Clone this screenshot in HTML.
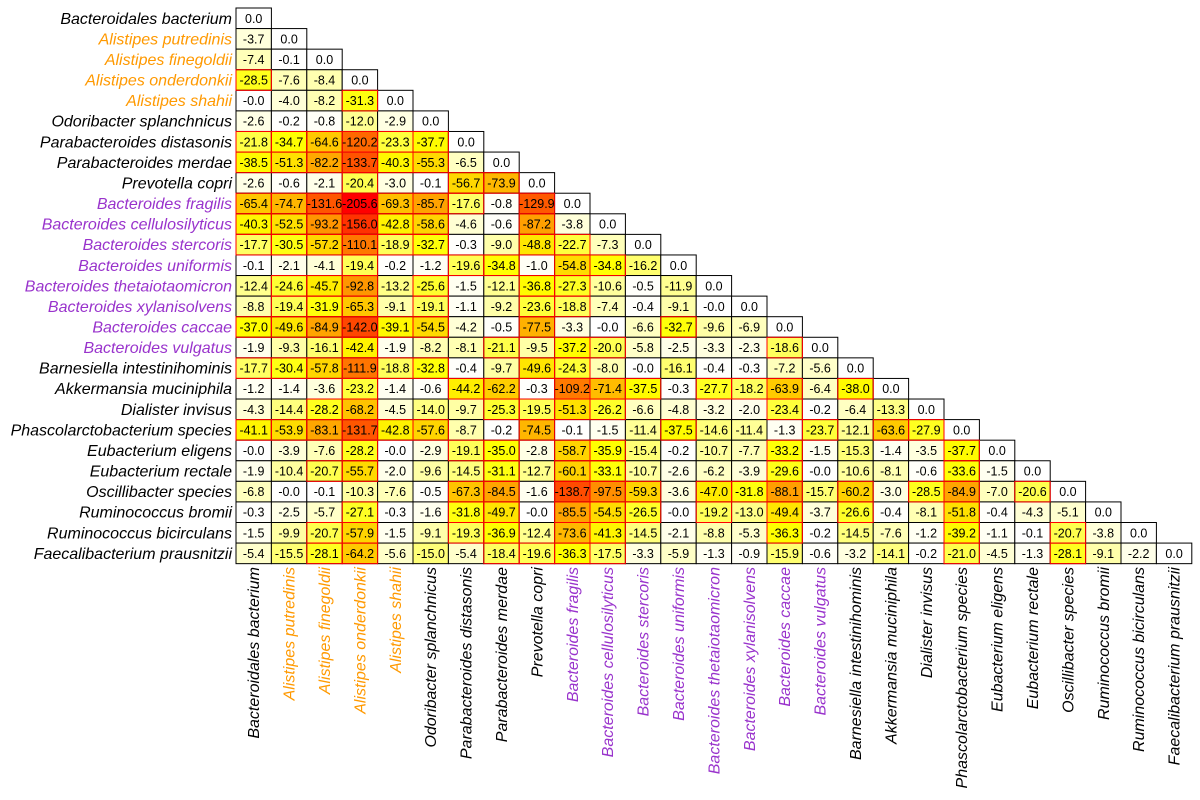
<!DOCTYPE html>
<html><head><meta charset="utf-8"><style>
html,body{margin:0;padding:0;background:#fff;}
svg{display:block;font-family:"Liberation Sans",Arial,sans-serif;}
</style></head><body>
<svg id="chart" width="1200" height="800" xmlns="http://www.w3.org/2000/svg"></svg>
<script>
const species = ["Bacteroidales bacterium","Alistipes putredinis","Alistipes finegoldii","Alistipes onderdonkii","Alistipes shahii","Odoribacter splanchnicus","Parabacteroides distasonis","Parabacteroides merdae","Prevotella copri","Bacteroides fragilis","Bacteroides cellulosilyticus","Bacteroides stercoris","Bacteroides uniformis","Bacteroides thetaiotaomicron","Bacteroides xylanisolvens","Bacteroides caccae","Bacteroides vulgatus","Barnesiella intestinihominis","Akkermansia muciniphila","Dialister invisus","Phascolarctobacterium species","Eubacterium eligens","Eubacterium rectale","Oscillibacter species","Ruminococcus bromii","Ruminococcus bicirculans","Faecalibacterium prausnitzii"];
const groups = ["k","o","o","o","o","k","k","k","k","p","p","p","p","p","p","p","p","k","k","k","k","k","k","k","k","k","k"];
const values = [
[0.0],
[-3.7,0.0],
[-7.4,-0.1,0.0],
[-28.5,-7.6,-8.4,0.0],
[-0.0,-4.0,-8.2,-31.3,0.0],
[-2.6,-0.2,-0.8,-12.0,-2.9,0.0],
[-21.8,-34.7,-64.6,-120.2,-23.3,-37.7,0.0],
[-38.5,-51.3,-82.2,-133.7,-40.3,-55.3,-6.5,0.0],
[-2.6,-0.6,-2.1,-20.4,-3.0,-0.1,-56.7,-73.9,0.0],
[-65.4,-74.7,-131.6,-205.6,-69.3,-85.7,-17.6,-0.8,-129.9,0.0],
[-40.3,-52.5,-93.2,-156.0,-42.8,-58.6,-4.6,-0.6,-87.2,-3.8,0.0],
[-17.7,-30.5,-57.2,-110.1,-18.9,-32.7,-0.3,-9.0,-48.8,-22.7,-7.3,0.0],
[-0.1,-2.1,-4.1,-19.4,-0.2,-1.2,-19.6,-34.8,-1.0,-54.8,-34.8,-16.2,0.0],
[-12.4,-24.6,-45.7,-92.8,-13.2,-25.6,-1.5,-12.1,-36.8,-27.3,-10.6,-0.5,-11.9,0.0],
[-8.8,-19.4,-31.9,-65.3,-9.1,-19.1,-1.1,-9.2,-23.6,-18.8,-7.4,-0.4,-9.1,-0.0,0.0],
[-37.0,-49.6,-84.9,-142.0,-39.1,-54.5,-4.2,-0.5,-77.5,-3.3,-0.0,-6.6,-32.7,-9.6,-6.9,0.0],
[-1.9,-9.3,-16.1,-42.4,-1.9,-8.2,-8.1,-21.1,-9.5,-37.2,-20.0,-5.8,-2.5,-3.3,-2.3,-18.6,0.0],
[-17.7,-30.4,-57.8,-111.9,-18.8,-32.8,-0.4,-9.7,-49.6,-24.3,-8.0,-0.0,-16.1,-0.4,-0.3,-7.2,-5.6,0.0],
[-1.2,-1.4,-3.6,-23.2,-1.4,-0.6,-44.2,-62.2,-0.3,-109.2,-71.4,-37.5,-0.3,-27.7,-18.2,-63.9,-6.4,-38.0,0.0],
[-4.3,-14.4,-28.2,-68.2,-4.5,-14.0,-9.7,-25.3,-19.5,-51.3,-26.2,-6.6,-4.8,-3.2,-2.0,-23.4,-0.2,-6.4,-13.3,0.0],
[-41.1,-53.9,-83.1,-131.7,-42.8,-57.6,-8.7,-0.2,-74.5,-0.1,-1.5,-11.4,-37.5,-14.6,-11.4,-1.3,-23.7,-12.1,-63.6,-27.9,0.0],
[-0.0,-3.9,-7.6,-28.2,-0.0,-2.9,-19.1,-35.0,-2.8,-58.7,-35.9,-15.4,-0.2,-10.7,-7.7,-33.2,-1.5,-15.3,-1.4,-3.5,-37.7,0.0],
[-1.9,-10.4,-20.7,-55.7,-2.0,-9.6,-14.5,-31.1,-12.7,-60.1,-33.1,-10.7,-2.6,-6.2,-3.9,-29.6,-0.0,-10.6,-8.1,-0.6,-33.6,-1.5,0.0],
[-6.8,-0.0,-0.1,-10.3,-7.6,-0.5,-67.3,-84.5,-1.6,-138.7,-97.5,-59.3,-3.6,-47.0,-31.8,-88.1,-15.7,-60.2,-3.0,-28.5,-84.9,-7.0,-20.6,0.0],
[-0.3,-2.5,-5.7,-27.1,-0.3,-1.6,-31.8,-49.7,-0.0,-85.5,-54.5,-26.5,-0.0,-19.2,-13.0,-49.4,-3.7,-26.6,-0.4,-8.1,-51.8,-0.4,-4.3,-5.1,0.0],
[-1.5,-9.9,-20.7,-57.9,-1.5,-9.1,-19.3,-36.9,-12.4,-73.6,-41.3,-14.5,-2.1,-8.8,-5.3,-36.3,-0.2,-14.5,-7.6,-1.2,-39.2,-1.1,-0.1,-20.7,-3.8,0.0],
[-5.4,-15.5,-28.1,-64.2,-5.6,-15.0,-5.4,-18.4,-19.6,-36.3,-17.5,-3.3,-5.9,-1.3,-0.9,-15.9,-0.6,-3.2,-14.1,-0.2,-21.0,-4.5,-1.3,-28.1,-9.1,-2.2,0.0]
];
const X0=236, CW=35.4, Y0=8, RH=20.58;
function xPos(j){return X0+j*CW;}
function yPos(i){return Y0+i*RH;}
function color(v){
  const t=Math.abs(v);
  if(t<=36){const b=Math.round(255*Math.pow(1-t/36,1.4)); return `rgb(255,255,${b})`;}
  const s=Math.min(1,(t-36)/169);
  const g=Math.round(255*Math.pow(1-s,1.3));
  return `rgb(255,${g},0)`;
}
const gcol={k:"#000",o:"#ff9900",p:"#9933cc"};
const NS="http://www.w3.org/2000/svg";
const svg=document.getElementById('chart');
function mk(t,a){const e=document.createElementNS(NS,t);for(const k in a)e.setAttribute(k,a[k]);return e;}
const gCells=mk('g',{}); const gRed=mk('g',{}); const gTxt=mk('g',{});
svg.appendChild(gCells);svg.appendChild(gRed);svg.appendChild(gTxt);
values.forEach((row,i)=>{
  row.forEach((v,j)=>{
    const r=mk('rect',{x:xPos(j),y:yPos(i),width:CW,height:RH,fill:color(v),stroke:'#000','stroke-width':1});
    
    
    gCells.appendChild(r);
    if(Math.abs(v)>=17){
      const rr=mk('rect',{x:xPos(j),y:yPos(i),width:CW,height:RH,fill:'none',stroke:'#ff0000','stroke-width':1});
      
      
      gRed.appendChild(rr);
    }
    const t=mk('text',{x:xPos(j)+CW/2,y:yPos(i)+RH/2+4.5,'text-anchor':'middle','font-size':12.5,fill:'#000'});
    t.textContent=(v===0&&Object.is(v,-0)?'-0.0':v.toFixed(1));
    
    
    gTxt.appendChild(t);
  });
});
species.forEach((s,i)=>{
  const t=mk('text',{x:232,y:yPos(i)+RH/2+5.5,'text-anchor':'end','font-size':16,'font-style':'italic',fill:gcol[groups[i]]});
  t.textContent=s;
  
  
  svg.appendChild(t);
  const cx=xPos(i)+CW/2+5.5, cy=567;
  const c=mk('text',{x:cx,y:cy,'text-anchor':'end','font-size':16,'font-style':'italic',fill:gcol[groups[i]],transform:`rotate(-90 ${cx} ${cy})`});
  c.textContent=s;
  
  
  svg.appendChild(c);
});
</script>
</body></html>
